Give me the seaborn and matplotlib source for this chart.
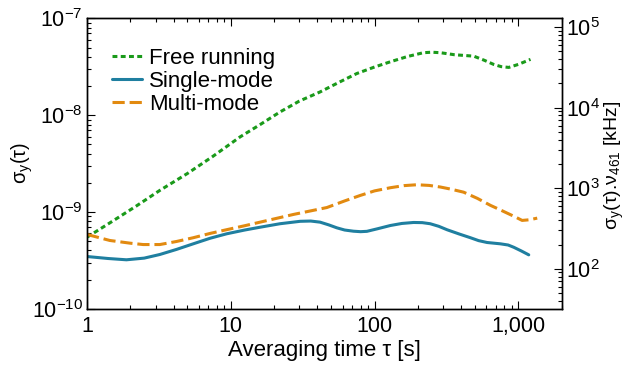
import numpy as np
import pandas as pd
import matplotlib
matplotlib.use("Agg")
import matplotlib.pyplot as plt
import matplotlib.ticker as mticker
import seaborn as sns

# ---- data ----
tau_free = [1, 1.5, 2.2, 3.21, 5.0, 7.5, 11.6, 16.0, 22.0, 30.0, 41.8, 57.0, 75.4,
            100, 129, 170, 219, 250, 287, 360, 490, 580, 675, 760, 859, 1000, 1217]
sig_free = [5.48e-10, 8.0e-10, 1.15e-9, 1.67e-9, 2.5e-9, 3.75e-9, 5.96e-9, 8.0e-9,
            1.08e-8, 1.40e-8, 1.74e-8, 2.20e-8, 2.70e-8, 3.15e-8, 3.57e-8, 4.05e-8,
            4.43e-8, 4.48e-8, 4.43e-8, 4.22e-8, 4.08e-8, 3.70e-8, 3.35e-8, 3.18e-8,
            3.12e-8, 3.35e-8, 3.78e-8]

tau_single = [1, 1.4, 1.88, 2.5, 3.21, 4.2, 5.48, 7.2, 9.36, 12.5, 16.0, 22.0, 30.4,
              36.0, 41.8, 48.0, 54.7, 62.0, 71.4, 80.0, 88.5, 105, 129, 155, 187,
              215, 244, 280, 320, 390, 465, 530, 607, 751, 850, 931, 1050, 1183]
sig_single = [3.46e-10, 3.30e-10, 3.20e-10, 3.33e-10, 3.63e-10, 4.10e-10, 4.68e-10,
              5.35e-10, 5.94e-10, 6.50e-10, 6.95e-10, 7.55e-10, 8.00e-10, 8.05e-10,
              7.84e-10, 7.35e-10, 6.85e-10, 6.50e-10, 6.32e-10, 6.25e-10, 6.30e-10,
              6.70e-10, 7.24e-10, 7.60e-10, 7.78e-10, 7.75e-10, 7.55e-10, 7.10e-10,
              6.54e-10, 5.90e-10, 5.41e-10, 5.05e-10, 4.83e-10, 4.68e-10, 4.55e-10,
              4.31e-10, 3.95e-10, 3.60e-10]

tau_multi = [1, 1.44, 2.0, 2.46, 3.21, 4.2, 5.48, 7.2, 9.36, 12.5, 16.0, 27.3, 46.6,
             62.0, 79.5, 100, 129, 160, 197, 240, 287, 340, 417, 520, 640, 740, 837,
             950, 1064, 1200, 1355]
sig_multi = [5.85e-10, 5.07e-10, 4.75e-10, 4.60e-10, 4.60e-10, 4.95e-10, 5.41e-10,
             6.00e-10, 6.55e-10, 7.20e-10, 7.84e-10, 9.42e-10, 1.11e-9, 1.30e-9,
             1.48e-9, 1.65e-9, 1.78e-9, 1.87e-9, 1.91e-9, 1.88e-9, 1.81e-9, 1.72e-9,
             1.60e-9, 1.38e-9, 1.17e-9, 1.06e-9, 9.72e-10, 8.90e-10, 8.17e-10,
             8.30e-10, 8.63e-10]

labels = ["Free running", "Single-mode", "Multi-mode"]
x_ticks = [1, 10, 100, 1000]
right_ticks = [1e2, 1e3, 1e4, 1e5]

sns.set_style("ticks")
plt.rcParams["font.family"] = ["Liberation Sans", "DejaVu Sans"]
plt.rcParams["mathtext.fontset"] = "custom"
plt.rcParams["mathtext.rm"] = "Liberation Sans"
plt.rcParams["mathtext.it"] = "Liberation Sans:italic"
plt.rcParams["mathtext.default"] = "regular"
for k in ["text.color", "axes.labelcolor", "xtick.color", "ytick.color", "axes.edgecolor"]:
    plt.rcParams[k] = "black"

FS = 15.5
W, H = 626, 367
fig = plt.figure(figsize=(6.26, 3.67), dpi=100)
ax = fig.add_axes([0.139, 0.159, 0.898 - 0.139, 0.9496 - 0.159])

green = "#1a9a1a"
blue = "#1f7fa0"
orange = "#e28a10"

df_free = pd.DataFrame({"tau": tau_free, "sigma": sig_free})
df_single = pd.DataFrame({"tau": tau_single, "sigma": sig_single})
df_multi = pd.DataFrame({"tau": tau_multi, "sigma": sig_multi})

sns.lineplot(data=df_free, x="tau", y="sigma", ax=ax, color=green, lw=2.2,
             label=labels[0])
ax.lines[-1].set_dashes((1.6, 1.1))
sns.lineplot(data=df_single, x="tau", y="sigma", ax=ax, color=blue, lw=2.2,
             label=labels[1])
sns.lineplot(data=df_multi, x="tau", y="sigma", ax=ax, color=orange, lw=2.2,
             label=labels[2])
ax.lines[-1].set_dashes((4.0, 1.6))

ax.set_xscale("log")
ax.set_yscale("log")
ax.set_xlim(1, 2020)
ax.set_ylim(1e-10, 1e-7)

ax.xaxis.set_major_locator(mticker.FixedLocator(x_ticks))
ax.xaxis.set_major_formatter(mticker.FixedFormatter([f"{v:,}" for v in x_ticks]))
ax.xaxis.set_minor_locator(mticker.LogLocator(base=10, subs=np.arange(2, 10), numticks=20))
ax.xaxis.set_minor_formatter(mticker.NullFormatter())
ax.yaxis.set_major_locator(mticker.FixedLocator([1e-10, 1e-9, 1e-8, 1e-7]))
ax.yaxis.set_major_formatter(mticker.FuncFormatter(lambda v, p: r"$10^{%d}$" % round(np.log10(v))))
ax.yaxis.set_minor_locator(mticker.LogLocator(base=10, subs=np.arange(2, 10), numticks=20))
ax.yaxis.set_minor_formatter(mticker.NullFormatter())

ax.tick_params(which="both", direction="in", top=True, right=False, labelsize=FS, width=0.8)
ax.tick_params(which="major", length=6)
ax.tick_params(which="minor", length=3)
ax.tick_params(axis="x", pad=5)
ax.tick_params(axis="y", pad=3)

ax.set_xlabel("Averaging time τ [s]", fontsize=16, labelpad=2.5)
ax.set_ylabel("")
fig.text(22 / W, 1 - 163 / H, "σ$_\\mathregular{y}$(τ)", fontsize=14.5, rotation=90,
         ha="center", va="center")

ax2 = ax.twinx()
ax2.set_yscale("log")
ax2.set_ylim(32, 1.28e5)
ax2.yaxis.set_major_locator(mticker.FixedLocator(right_ticks))
ax2.yaxis.set_major_formatter(mticker.FuncFormatter(lambda v, p: r"$10^{%d}$" % round(np.log10(v))))
ax2.yaxis.set_minor_locator(mticker.LogLocator(base=10, subs=np.arange(2, 10), numticks=20))
ax2.yaxis.set_minor_formatter(mticker.NullFormatter())
ax2.tick_params(which="both", direction="in", labelsize=FS, width=0.8, pad=3)
ax2.tick_params(which="major", length=6)
ax2.tick_params(which="minor", length=3)
fig.text(614 / W, 1 - 165 / H, "σ$_\\mathregular{y}$(τ).ν$_\\mathregular{461}$ [kHz]",
         fontsize=14.0, rotation=90, ha="center", va="center")

for a in (ax, ax2):
    for s in a.spines.values():
        s.set_color("black")
        s.set_linewidth(1.0)

leg = ax.legend(loc="upper left", bbox_to_anchor=(0.052, 0.899), frameon=False,
                fontsize=16, handlelength=1.35, handletextpad=0.33, labelspacing=0.1,
                borderaxespad=0, borderpad=0)

fig.savefig("out.png", dpi=100)
